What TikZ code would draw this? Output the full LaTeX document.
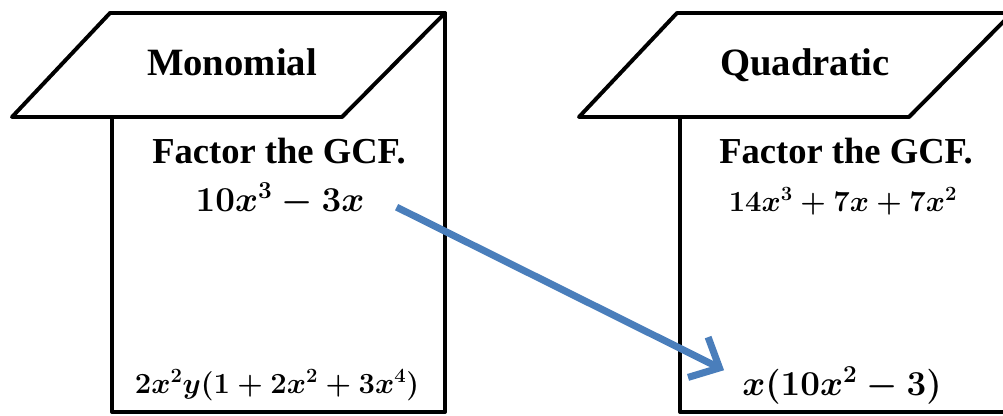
\documentclass[tikz,border=0pt]{standalone}
\usepackage{fontspec}
\setmainfont{Liberation Serif}
\usepackage{tikz}
\usetikzlibrary{arrows.meta,positioning}
\definecolor{gblue}{HTML}{4A7EBB}
\tikzset{
  gedge/.style={draw=black, line width=2.8pt, line join=round, line cap=round},
  gface/.style={gedge, fill=white},
  gtitle/.style={font=\bfseries\fontsize{27.5}{32}\selectfont, inner sep=0pt, anchor=base},
  ghead/.style={font=\bfseries\fontsize{26}{30}\selectfont, inner sep=0pt, anchor=base},
  gbig/.style={font=\boldmath\fontsize{26}{30}\selectfont, inner sep=0pt, anchor=base},
  gsmall/.style={font=\boldmath\fontsize{22}{26}\selectfont, inner sep=0pt, anchor=base},
  gflow/.style={draw=gblue, line width=5pt,
                -{Straight Barb[length=17pt, width=32pt, line width=5pt]}},
}

\begin{document}
\begin{tikzpicture}[x=0.025cm,y=-0.025cm]

  \useasboundingbox (0,0) rectangle (1003,415);
  \clip (0,0) rectangle (1003,415);

  % carta da esquerda
  \draw[gedge] (112,117) -- (112,412) -- (445,412) -- (445,13);
  \draw[gface] (12,117) -- (342,117) -- (445,13) -- (110,13) -- cycle;

  % carta da direita
  \draw[gedge] (680,117) -- (680,412) -- (1012,412) -- (1012,13);
  \draw[gface] (579,117) -- (909,117) -- (1012,13) -- (677,13) -- cycle;

  % textos
  \node[gtitle] (m0) at (232,75)  {Monomial};
  \node[ghead]  (m1) at (279,163) {Factor the GCF.};
  \node[gbig]   (m2) at (280,211) {$10x^3-3x$};
  \node[gsmall] (m3) at (277,393) {$2x^2y(1+2x^2+3x^4)$};

  \node[gtitle] (q0) at (805,75)  {Quadratic};
  \node[ghead]  (q1) at (846,163) {Factor the GCF.};
  \node[gsmall] (q2) at (843,211) {$14x^3+7x+7x^2$};
  \node[gbig]   (q3) at (842,395) {$x(10x^2-3)$};

  \draw[gflow] ([shift={(32,8)}]m2.east) -- ([shift={(-18,-15)}]q3.west);

\end{tikzpicture}
\end{document}
